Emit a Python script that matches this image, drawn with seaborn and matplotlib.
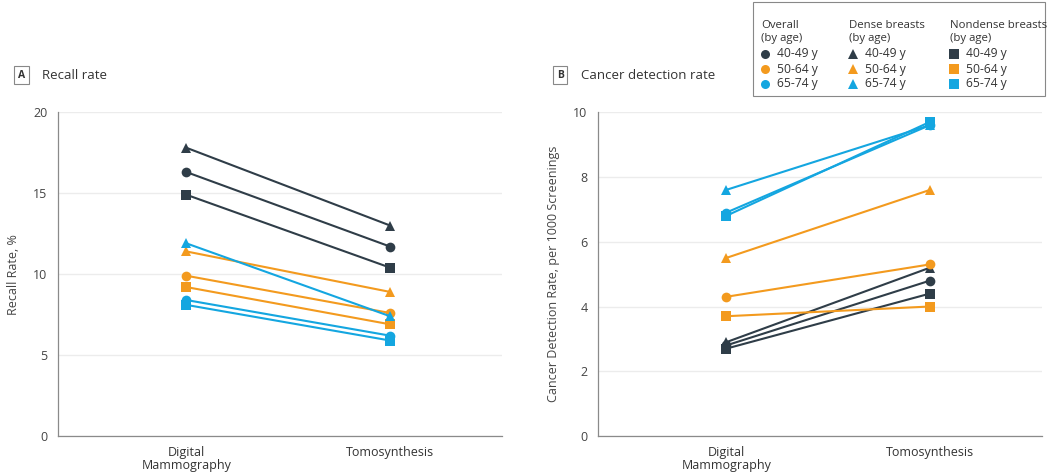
import pandas as pd
import seaborn as sns
import matplotlib.pyplot as plt
from matplotlib.lines import Line2D
from matplotlib.patches import Rectangle

sns.set_style("white")
plt.rcParams['font.family'] = ['Open Sans', 'DejaVu Sans']

modalities = ["Digital\nMammography", "Tomosynthesis"]
groups = ["Overall", "Dense breasts", "Nondense breasts"]
ages = ["40-49 y", "50-64 y", "65-74 y"]

# recall rate, % (by age group 40-49, 50-64, 65-74)
recall_overall_dm = [16.3, 9.9, 8.4]
recall_overall_tomo = [11.7, 7.6, 6.2]
recall_dense_dm = [17.8, 11.4, 11.9]
recall_dense_tomo = [13.0, 8.9, 7.4]
recall_nondense_dm = [14.9, 9.2, 8.1]
recall_nondense_tomo = [10.4, 6.9, 5.9]

# cancer detection rate, per 1000 screenings
cdr_overall_dm = [2.8, 4.3, 6.9]
cdr_overall_tomo = [4.8, 5.3, 9.6]
cdr_dense_dm = [2.9, 5.5, 7.6]
cdr_dense_tomo = [5.2, 7.6, 9.6]
cdr_nondense_dm = [2.7, 3.7, 6.8]
cdr_nondense_tomo = [4.4, 4.0, 9.7]

palette = {"40-49 y": "#2f3d48", "50-64 y": "#f39a1e", "65-74 y": "#14a6e0"}
markers = {"Overall": "o", "Dense breasts": "^", "Nondense breasts": "s"}


def long_table(pairs):
    rows = []
    for grp, (dm, tomo) in zip(groups, pairs):
        for i, age in enumerate(ages):
            rows.append({"x": 0, "rate": dm[i], "age": age, "group": grp})
            rows.append({"x": 1, "rate": tomo[i], "age": age, "group": grp})
    return pd.DataFrame(rows)


recall = long_table([(recall_overall_dm, recall_overall_tomo),
                     (recall_dense_dm, recall_dense_tomo),
                     (recall_nondense_dm, recall_nondense_tomo)])
cdr = long_table([(cdr_overall_dm, cdr_overall_tomo),
                  (cdr_dense_dm, cdr_dense_tomo),
                  (cdr_nondense_dm, cdr_nondense_tomo)])

fig = plt.figure(figsize=(10.5, 4.73), dpi=100)
axA = fig.add_axes([0.0552, 0.078, 0.423, 0.685])
axB = fig.add_axes([0.5695, 0.078, 0.423, 0.685])

panels = [
    (axA, recall, 20, 5, "Recall Rate, %", "A", "Recall rate", 0.0205),
    (axB, cdr, 10, 2, "Cancer Detection Rate, per 1000 Screenings", "B",
     "Cancer detection rate", 0.5335),
]

for ax, df, ymax, step, ylab, letter, title, tx in panels:
    sns.lineplot(data=df, x="x", y="rate", hue="age", style="group",
                 palette=palette, markers=markers, dashes=False,
                 markersize=7, markeredgewidth=0, linewidth=1.5,
                 legend=False, ax=ax, zorder=3)
    ax.set_xlim(-0.63, 1.55)
    ax.set_ylim(0, ymax)
    ax.set_yticks(range(0, ymax + 1, step))
    ax.set_xticks([0, 1])
    ax.set_xticklabels(modalities, fontsize=9, color="#333333",
                       linespacing=1.0)
    ax.tick_params(axis="y", labelsize=9, labelcolor="#444444",
                   length=4, color="#888888", width=0.8)
    ax.tick_params(axis="x", length=3, color="#dddddd", width=0.8, pad=4)
    ax.set_xlabel("")
    ax.set_ylabel(ylab, fontsize=9, color="#444444")
    ax.yaxis.set_label_coords(-0.085, 0.5)
    ax.grid(axis="y", color="#ececec", linewidth=1)
    ax.set_axisbelow(True)
    sns.despine(ax=ax)
    for s in ("left", "bottom"):
        ax.spines[s].set_color("#8a8a8a")
        ax.spines[s].set_linewidth(0.9)
    fig.text(tx, 0.841, letter, fontsize=7.5, fontweight="bold", color="#333333",
             ha="center", va="center",
             bbox=dict(boxstyle="square,pad=0.35", fc="white", ec="#888888", lw=0.8))
    fig.text(tx + 0.0195, 0.841, title, fontsize=9.5, color="#333333",
             ha="left", va="center")

# legend box, top right
lg = fig.add_axes([752 / 1050, 1 - 97 / 473, 293 / 1050, 95 / 473])
lg.set_xlim(0, 293)
lg.set_ylim(95, 0)
lg.axis("off")
lg.add_patch(Rectangle((0.5, 0.5), 292, 94, fc="white", ec="#888888", lw=0.8,
                       clip_on=False))
col_x = [9, 97, 198]
for c, grp in enumerate(groups):
    lg.text(col_x[c], 30, grp + "\n(by age)", fontsize=8.2, color="#333333",
            va="center", ha="left", linespacing=1.3)
    for r, age in enumerate(ages):
        yy = 52 + r * 15
        lg.add_line(Line2D([col_x[c] + 4], [yy], marker=markers[grp],
                           color=palette[age], markersize=6.5, markeredgewidth=0,
                           linestyle="none"))
        lg.text(col_x[c] + 16, yy, age, fontsize=8.7, color="#333333",
                va="center", ha="left")

fig.savefig("out.png", dpi=100)
plt.close(fig)
